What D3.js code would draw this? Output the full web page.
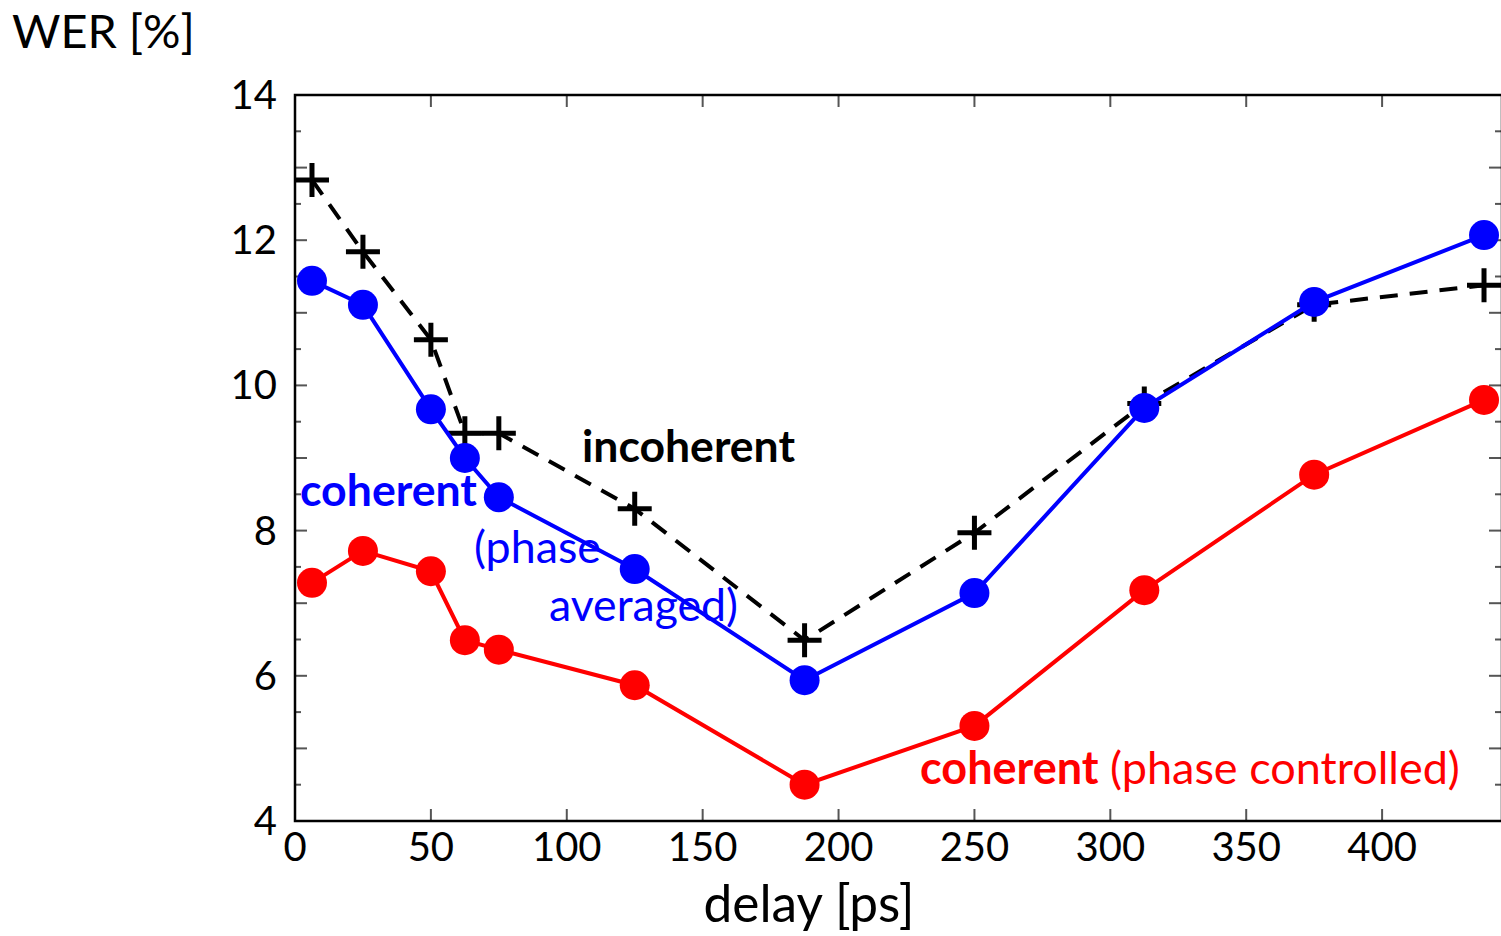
<!DOCTYPE html>
<html><head><meta charset="utf-8">
<script src="https://cdn.jsdelivr.net/npm/d3@7"></script>
<style>body{margin:0;background:#fff}svg{display:block}text{font-family:Lato,"Open Sans",sans-serif}</style>
</head><body><svg id="c" width="1501" height="936"></svg>
<script>
const delays = [6.25, 25, 50, 62.5, 75, 125, 187.5, 250, 312.5, 375, 437.5];
const incoherent = [12.83, 11.84, 10.63, 9.34, 9.34, 8.30, 6.49, 7.97, 9.75, 11.11, 11.38];
const coherentAveraged = [11.44, 11.11, 9.67, 9.00, 8.46, 7.47, 5.94, 7.14, 9.69, 11.15, 12.07];
const coherentControlled = [7.28, 7.72, 7.44, 6.49, 6.36, 5.87, 4.50, 5.31, 7.18, 8.77, 9.80];
const xTicks = [0, 50, 100, 150, 200, 250, 300, 350, 400];
const yTicks = [4, 6, 8, 10, 12, 14];

const svg = d3.select("#c");
const L = 295, R = 1501, T = 95, B = 821;
const x = d3.scaleLinear().domain([0, 443.75]).range([L, R]);
const y = d3.scaleLinear().domain([4, 14]).range([B, T]);

function fit(sel, w) {
  const n = sel.node();
  const fs = parseFloat(sel.attr("font-size"));
  const cur = n.getComputedTextLength();
  sel.attr("font-size", fs * w / cur);
  return sel;
}

const g = svg.append("g");
const yMinor = d3.range(4, 14.01, 0.5);
yMinor.forEach(v => {
  const len = Number.isInteger(v) ? 12 : 6;
  g.append("line").attr("x1", L).attr("x2", L + len).attr("y1", y(v)).attr("y2", y(v)).attr("stroke", "#555").attr("stroke-width", 2);
  g.append("line").attr("x1", R).attr("x2", R - len).attr("y1", y(v)).attr("y2", y(v)).attr("stroke", "#555").attr("stroke-width", 2);
});
xTicks.forEach(v => {
  g.append("line").attr("x1", x(v)).attr("x2", x(v)).attr("y1", B).attr("y2", B - 12).attr("stroke", "#555").attr("stroke-width", 2);
  g.append("line").attr("x1", x(v)).attr("x2", x(v)).attr("y1", T).attr("y2", T + 12).attr("stroke", "#555").attr("stroke-width", 2);
});
svg.append("path").attr("d", `M${L},${T}H${R + 1}V${B}H${L}Z`).attr("fill", "none").attr("stroke", "#000").attr("stroke-width", 2.5);

svg.append("g").selectAll("text").data(xTicks).join("text")
  .attr("x", d => x(d)).attr("y", B + 40).attr("text-anchor", "middle")
  .attr("font-size", 40).text(d => d);
svg.append("g").selectAll("text").data(yTicks).join("text")
  .attr("x", L - 18).attr("y", d => y(d) + 14).attr("text-anchor", "end")
  .attr("font-size", 40).text(d => d);

fit(svg.append("text").attr("x", 809).attr("y", 922).attr("text-anchor", "middle").attr("font-size", 44).text("delay [ps]"), 211);
fit(svg.append("text").attr("x", 12).attr("y", 48).attr("font-size", 44).text("WER [%]"), 183);

const line = d3.line().x(d => x(d[0])).y(d => y(d[1]));

const inc = delays.map((d, i) => [d, incoherent[i]]);
svg.append("path").attr("d", line(inc)).attr("fill", "none").attr("stroke", "#000").attr("stroke-width", 4).attr("stroke-dasharray", "18,12");
svg.append("g").selectAll("path").data(inc).join("path")
  .attr("d", d => `M${x(d[0]) - 17},${y(d[1])}H${x(d[0]) + 17}M${x(d[0])},${y(d[1]) - 17}V${y(d[1]) + 17}`)
  .attr("stroke", "#000").attr("stroke-width", 5);

function series(vals, color) {
  const pts = delays.map((d, i) => [d, vals[i]]);
  svg.append("path").attr("d", line(pts)).attr("fill", "none").attr("stroke", color).attr("stroke-width", 4);
  svg.append("g").selectAll("circle").data(pts).join("circle")
    .attr("cx", d => x(d[0])).attr("cy", d => y(d[1])).attr("r", 15).attr("fill", color);
}
series(coherentAveraged, "#0000ff");
series(coherentControlled, "#ff0000");

fit(svg.append("text").attr("x", 582).attr("y", 462).attr("font-size", 38).attr("font-weight", "bold").attr("fill", "#000").text("incoherent"), 213);
fit(svg.append("text").attr("x", 300).attr("y", 506).attr("font-size", 38).attr("font-weight", "bold").attr("fill", "#0000ff").text("coherent"), 177);
fit(svg.append("text").attr("x", 474).attr("y", 563).attr("font-size", 38).attr("fill", "#0000ff").text("(phase"), 127);
fit(svg.append("text").attr("x", 549).attr("y", 621).attr("font-size", 38).attr("fill", "#0000ff").text("averaged)"), 189);
const t = svg.append("text").attr("x", 920).attr("y", 784).attr("font-size", 38).attr("fill", "#ff0000");
t.append("tspan").attr("font-weight", "bold").text("coherent");
t.append("tspan").text(" (phase controlled)");
fit(t, 540);
</script></body></html>
